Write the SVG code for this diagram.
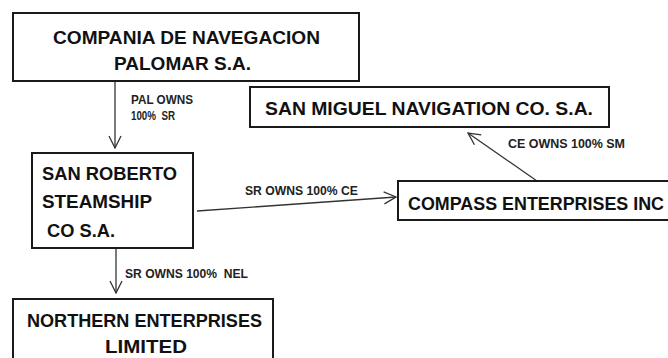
<svg xmlns="http://www.w3.org/2000/svg" width="668" height="358" viewBox="0 0 668 358">
<defs>
<style>
.box{fill:#fff;stroke:#1a1a1a;stroke-width:2}
.big{font-family:"Liberation Sans",Arial,sans-serif;font-weight:bold;font-size:18.5px;fill:#111}
.lbl{font-family:"Liberation Sans",Arial,sans-serif;font-weight:bold;font-size:12.5px;fill:#222}
.edge{stroke:#333;stroke-width:1.3;fill:none}
.head{stroke:#333;stroke-width:1.3;fill:none}
</style>
<marker id="arr" viewBox="0 0 14 14" refX="13" refY="7" markerWidth="14" markerHeight="14" markerUnits="userSpaceOnUse" orient="auto">
<path class="head" d="M1,1 L13,7 L1,13"/>
</marker>
</defs>
<rect width="668" height="358" fill="#fff"/>
<g id="connectors">
<line class="edge" x1="115" y1="81" x2="115" y2="148" marker-end="url(#arr)"/>
<line class="edge" x1="197" y1="211" x2="396" y2="197" marker-end="url(#arr)"/>
<line class="edge" x1="537" y1="181" x2="468" y2="133" marker-end="url(#arr)"/>
<line class="edge" x1="116" y1="248" x2="116" y2="293" marker-end="url(#arr)"/>
<text class="lbl" x="131" y="104" textLength="62" lengthAdjust="spacingAndGlyphs">PAL OWNS</text>
<text class="lbl" x="131" y="120" textLength="44" lengthAdjust="spacingAndGlyphs" xml:space="preserve">100%  SR</text>
<text class="lbl" x="245" y="195" textLength="113" lengthAdjust="spacingAndGlyphs">SR OWNS 100% CE</text>
<text class="lbl" x="508" y="148" textLength="117" lengthAdjust="spacingAndGlyphs">CE OWNS 100% SM</text>
<text class="lbl" x="125" y="278" textLength="123" lengthAdjust="spacingAndGlyphs" xml:space="preserve">SR OWNS 100%  NEL</text>
</g>
<g id="palomar">
<rect class="box" x="13" y="13" width="346" height="68"/>
<text class="big" x="53" y="44" textLength="267" lengthAdjust="spacingAndGlyphs">COMPANIA DE NAVEGACION</text>
<text class="big" x="114" y="70" textLength="137" lengthAdjust="spacingAndGlyphs">PALOMAR S.A.</text>
</g>
<g id="sanmiguel">
<rect class="box" x="250" y="87" width="359" height="40"/>
<text class="big" x="265" y="115" textLength="328" lengthAdjust="spacingAndGlyphs">SAN MIGUEL NAVIGATION CO. S.A.</text>
</g>
<g id="sanroberto">
<rect class="box" x="32" y="153" width="161" height="95"/>
<text class="big" x="42" y="180" textLength="135" lengthAdjust="spacingAndGlyphs">SAN ROBERTO</text>
<text class="big" x="42" y="208" textLength="110" lengthAdjust="spacingAndGlyphs">STEAMSHIP</text>
<text class="big" x="47" y="237" textLength="68" lengthAdjust="spacingAndGlyphs">CO S.A.</text>
</g>
<g id="compass">
<rect class="box" x="398" y="181" width="290" height="39"/>
<text class="big" x="408" y="210" style="font-size:17.5px" textLength="256" lengthAdjust="spacingAndGlyphs">COMPASS ENTERPRISES INC</text>
</g>
<g id="northern">
<rect class="box" x="13" y="299" width="260" height="70"/>
<text class="big" x="27" y="327" textLength="235" lengthAdjust="spacingAndGlyphs">NORTHERN ENTERPRISES</text>
<text class="big" x="105" y="353" textLength="82" lengthAdjust="spacingAndGlyphs">LIMITED</text>
</g>
</svg>
